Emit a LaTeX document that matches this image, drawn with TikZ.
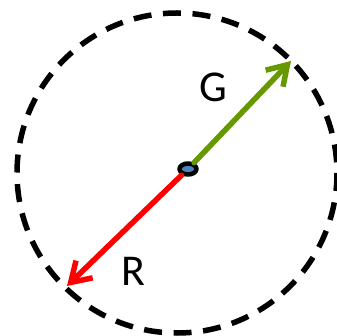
\documentclass[tikz,border=0pt]{standalone}
\usepackage{fontspec}
\setmainfont{Carlito}
\usetikzlibrary{arrows.meta, shapes.geometric}
\definecolor{vecgreen}{RGB}{102,153,0}
\definecolor{hubblue}{RGB}{79,129,189}
\tikzset{
  vec/.style={line width=5.5pt, ->},
  lbl/.style={font=\fontsize{44}{44}\selectfont, inner sep=0pt}
}

\begin{document}
\begin{tikzpicture}[x=1pt,y=-1pt,>={Straight Barb[length=19pt,width=24pt]},line cap=round,line join=round]
  \useasboundingbox (0,0) rectangle (337,336);
  % dashed circle
  \draw[line width=5.5pt, line cap=butt, dash pattern=on 18pt off 11.6pt] (177,173) circle (160);

  % hub and tips
  \node[ellipse, draw=black, line width=4.5pt, fill=hubblue, minimum width=17pt, minimum height=11pt, inner sep=0pt] (hub) at (188,169) {};
  \coordinate (gtip) at (291,61);
  \coordinate (rtip) at (67,286);

  % vectors
  \draw[vec, vecgreen] (hub) -- (gtip);
  \draw[vec, red] (hub) -- (rtip);

  % labels
  \node[lbl] (glabel) at (213,87) {G};
  \node[lbl] (rlabel) at (133,271) {R};
\end{tikzpicture}
\end{document}
